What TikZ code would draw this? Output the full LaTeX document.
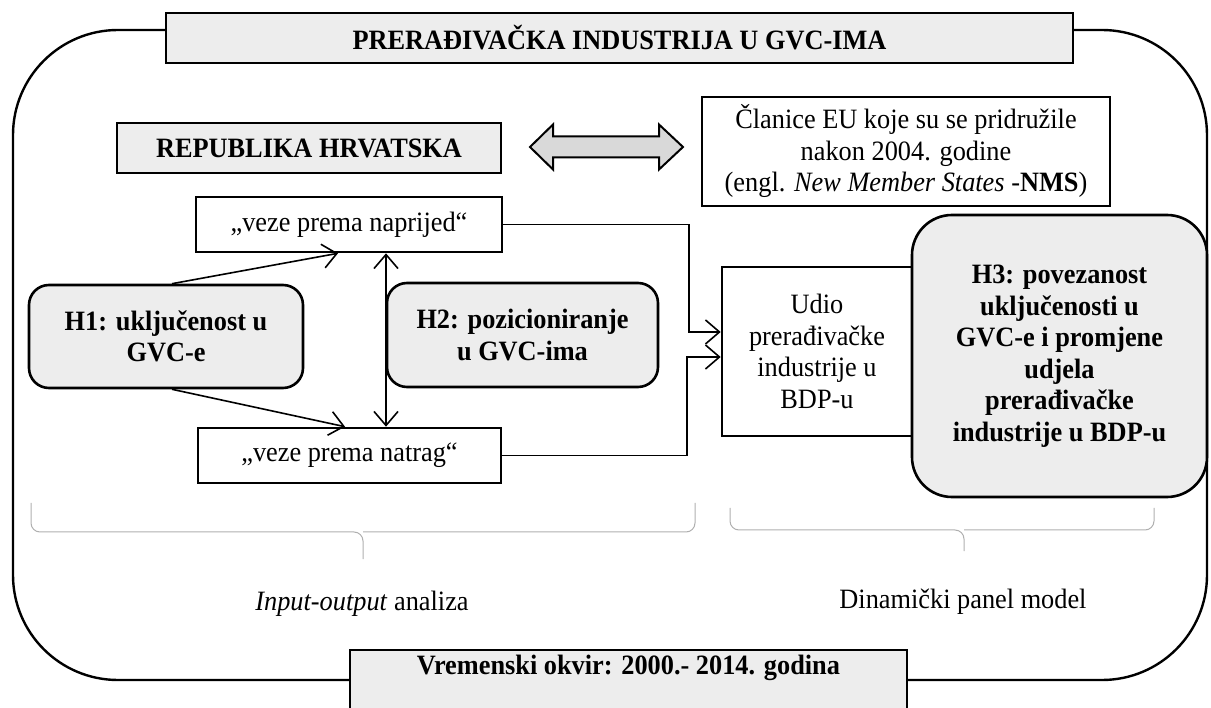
\documentclass[tikz,border=0pt]{standalone}
\usepackage{fontspec}
\setmainfont{Liberation Serif}[FakeStretch=0.94]
\usetikzlibrary{arrows.meta,calc}
\definecolor{boxgray}{RGB}{237,237,237}
\definecolor{arrowgray}{RGB}{217,217,217}
\definecolor{bracegray}{RGB}{175,175,175}
\tikzset{
  every node/.style={font=\fontsize{28}{31.5}\selectfont, inner sep=0pt, align=center},
  graybox/.style={draw, line width=2pt, fill=boxgray},
  whitebox/.style={draw, line width=2.6pt, fill=white},
  hypbox/.style={draw, line width=2.6pt, fill=boxgray, rounded corners=#1},
  conn/.style={line width=1.6pt},
  tipa/.tip={Straight Barb[length=14pt,width=24pt,line width=1.6pt]},
  bracestyle/.style={draw=bracegray, line width=1pt, rounded corners=9pt},
}
\begin{document}
\begin{tikzpicture}[x=1pt,y=-1pt]
\clip (0,0) rectangle (1211,708);
% outer frame
\draw[line width=2.4pt, rounded corners=105pt] (13,30) rectangle (1207,680);
% title
\node[graybox, minimum width=907pt, minimum height=50pt, font=\fontsize{28}{31.5}\selectfont\bfseries] (title) at (619.5,38) {PRERAĐIVAČKA INDUSTRIJA U GVC-IMA};
% Republika Hrvatska
\node[graybox, minimum width=384pt, minimum height=50pt, font=\fontsize{28}{31.5}\selectfont\bfseries] (rh) at (309,148) {REPUBLIKA HRVATSKA};
% double block arrow
\draw[line width=2pt, fill=arrowgray, line join=miter] (530,147) -- (553,124.5) -- (553,136.5) -- (659,136.5) -- (659,124.5) -- (683,147) -- (659,169.5) -- (659,157.5) -- (553,157.5) -- (553,169.5) -- cycle;
% NMS
\node[whitebox, line width=2.2pt, minimum width=408pt, minimum height=109pt] (nms) at (906,151.5) {Članice EU koje su se pridružile\\nakon 2004. godine\\(engl. \textit{New Member States} -\textbf{NMS})};
% linkage boxes
\node[whitebox, minimum width=306pt, minimum height=55pt] (nap) at (349,224.5) {„veze prema naprijed“};
\node[whitebox, minimum width=303pt, minimum height=55pt] (nat) at (349.5,455.5) {„veze prema natrag“};
% hypotheses
\node[hypbox=20pt, minimum width=274pt, minimum height=103pt, font=\fontsize{28}{31.5}\selectfont\bfseries] (h1) at (166,336.5) {H1: uključenost u\\GVC-e};
\node[hypbox=20pt, minimum width=271pt, minimum height=104pt, font=\fontsize{28}{31.5}\selectfont\bfseries] (h2) at (522.5,335) {H2: pozicioniranje\\u GVC-ima};
\node[whitebox, minimum width=190pt, minimum height=169pt] (udio) at (817,351.5) {Udio\\prerađivačke\\industrije u\\BDP-u};
\node[hypbox=40pt, minimum width=295pt, minimum height=282pt, font=\fontsize{28}{31.5}\selectfont\bfseries] (h3) at (1059.5,356) {H3: povezanost\\uključenosti u\\GVC-e i promjene\\udjela\\prerađivačke\\industrije u BDP-u};
% connectors
\draw[conn, -{tipa}] ($(h1.north)+(6,0)$) -- ($(nap.south)+(-11,0)$);
\draw[conn, -{tipa}] ($(h1.south)+(6,0)$) -- ($(nat.north)+(-4.5,0)$);
\draw[conn, {tipa}-{tipa}] ($(nap.south)+(37,0)$) -- ($(nat.north)+(36.5,0)$);
\draw[conn, -{tipa}] (nap.east) -| ($(udio.west)+(-32,-19.5)$) -- ($(udio.west)+(0,-19.5)$);
\draw[conn, -{tipa}] (nat.east) -| ($(udio.west)+(-34,5.5)$) -- ($(udio.west)+(0,5.5)$);
% braces
\draw[bracestyle] (31,503) |- (363,532) -- (363,559);
\draw[bracestyle] (695,503) |- (363,532);
\draw[bracestyle] (730,508) |- (964,530) -- (964,551);
\draw[bracestyle] (1154,508) |- (964,530);
% method labels
\node[anchor=base] (io) at (362,610) {\textit{Input-output} analiza};
\node[anchor=base] (dpm) at (963,608) {Dinamički panel model};
% time frame
\draw[graybox] (350,650) rectangle (907,716);
\node[anchor=base, font=\fontsize{28}{31.5}\selectfont\bfseries] (vrem) at (628.5,674) {Vremenski okvir: 2000.- 2014. godina};
\end{tikzpicture}
\end{document}
